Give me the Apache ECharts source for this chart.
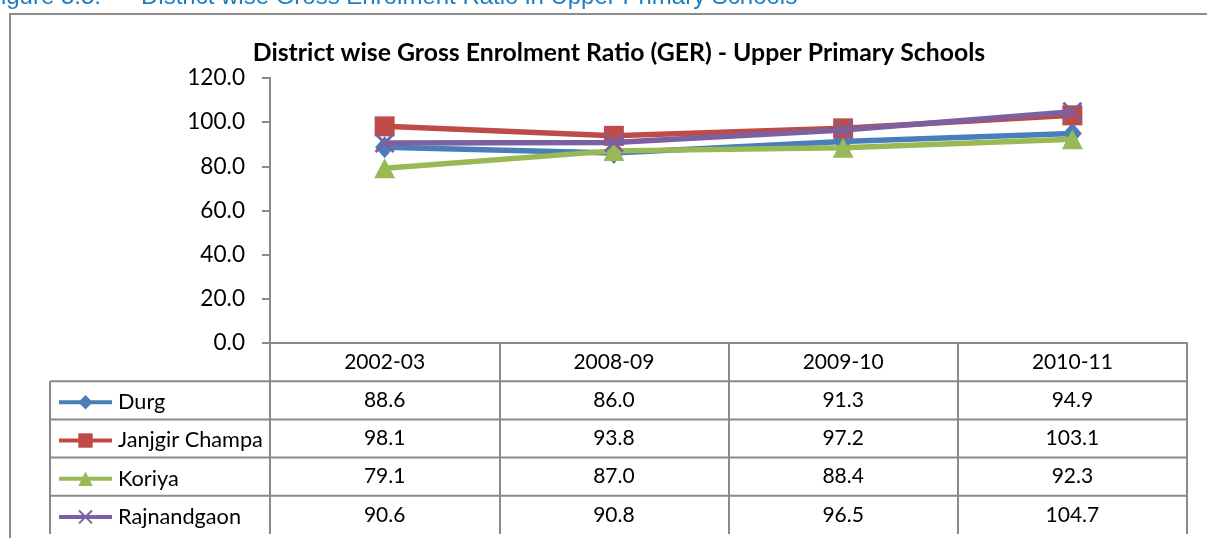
<!DOCTYPE html>
<html>
<head>
<meta charset="utf-8">
<script src="https://cdn.jsdelivr.net/npm/echarts@6/dist/echarts.min.js"></script>
<style>
  html, body { margin: 0; padding: 0; background: #fff; }
  #chart { width: 1207px; height: 538px; }
</style>
</head>
<body>
<div id="chart"></div>
<script>
// School years on the category axis
const years = ['2002-03', '2008-09', '2009-10', '2010-11'];

// Gross Enrolment Ratio, upper primary, by district
const durg        = [88.6, 86.0, 91.3, 94.9];
const janjgir     = [98.1, 93.8, 97.2, 103.1];
const koriya      = [79.1, 87.0, 88.4, 92.3];
const rajnandgaon = [90.6, 90.8, 96.5, 104.7];

const districtNames = ['Durg', 'Janjgir Champa', 'Koriya', 'Rajnandgaon'];
const districtValues = [durg, janjgir, koriya, rajnandgaon];

// Value axis ticks
const yTicks = { min: 0, max: 120, interval: 20 };

const FONT = 'Lato, "Open Sans", sans-serif';
const GRID_LINE = '#8a8a8a';
const colors = ['#4a7ebb', '#be4b48', '#98b954', '#7d60a0'];
const crossPath = 'path://M0,2 L2,0 L10,8 L18,0 L20,2 L12,10 L20,18 L18,20 L10,12 L2,20 L0,18 L8,10 Z';
const symbols = ['diamond', 'rect', 'triangle', crossPath];
const symbolSizes = [[19, 22], 20, [21, 20], 20];

const ROW_H = 38.2;
const GRID = { left: 270, right: 20, top: 78, bottom: 195 };

const chart = echarts.init(document.getElementById('chart'), null, { renderer: 'canvas' });

const series = districtNames.map((name, i) => ({
  name: name,
  type: 'line',
  data: districtValues[i],
  symbol: symbols[i],
  symbolSize: symbolSizes[i],
  showAllSymbol: true,
  z: 2 + i,
  lineStyle: { color: colors[i], width: 5.5 },
  itemStyle: { color: colors[i], borderWidth: 0 },
  emphasis: { disabled: true },
  animation: false
}));

const baseOption = {
  animation: false,
  color: colors,
  title: {
    text: 'District wise Gross Enrolment Ratio (GER) - Upper Primary Schools',
    left: 614, textAlign: 'center', top: 36,
    textStyle: { fontFamily: FONT, fontSize: 24.8, fontWeight: 'bold', color: '#000' }
  },
  grid: GRID,
  xAxis: {
    type: 'category',
    data: years,
    boundaryGap: true,
    axisLine: { show: true, lineStyle: { color: GRID_LINE, width: 2 } },
    axisTick: { show: true, length: ROW_H * 5, lineStyle: { color: GRID_LINE, width: 2 } },
    axisLabel: {
      margin: 19, verticalAlign: 'middle',
      fontFamily: FONT, fontSize: 21, color: '#000'
    },
    splitLine: { show: false }
  },
  yAxis: {
    type: 'value',
    min: yTicks.min, max: yTicks.max, interval: yTicks.interval,
    axisLine: { show: true, lineStyle: { color: GRID_LINE, width: 2 } },
    axisTick: { show: true, length: 8, lineStyle: { color: GRID_LINE, width: 2 } },
    axisLabel: {
      margin: 25, fontFamily: FONT, fontSize: 22.6, color: '#000',
      formatter: v => v.toFixed(1)
    },
    splitLine: { show: false }
  },
  series: series
};

chart.setOption(baseOption);

// Data table beneath the plot: rows, legend keys and values
const catX = years.map(y => chart.convertToPixel({ xAxisIndex: 0 }, y));
const axisY = chart.convertToPixel({ yAxisIndex: 0 }, 0);
const bandW = catX.length > 1 ? catX[1] - catX[0] : 200;
const tableRight = catX[catX.length - 1] + bandW / 2;
const tableLeft = 50;

const CAPTION_FONT = '24px "Liberation Sans", Arial, sans-serif';
const graphics = [];
// Outer chart frame
graphics.push({
  type: 'rect', silent: true, z: 0,
  shape: { x: 10, y: 14, width: 1240, height: 600 },
  style: { fill: 'none', stroke: '#8c8c8c', lineWidth: 2 }
});
// Figure caption above the frame
graphics.push({
  type: 'text', silent: true,
  x: 101, y: -3,
  style: { text: 'Figure 5.5:', fill: '#1b7dc3', font: CAPTION_FONT, textAlign: 'right', textVerticalAlign: 'middle' }
});
graphics.push({
  type: 'text', silent: true,
  x: 141, y: -3,
  style: { text: 'District wise Gross Enrolment Ratio in Upper Primary Schools', fill: '#1b7dc3', font: CAPTION_FONT, textAlign: 'left', textVerticalAlign: 'middle' }
});

// Horizontal row rules
for (let r = 1; r <= districtNames.length; r++) {
  const y = axisY + ROW_H * r;
  graphics.push({
    type: 'line', silent: true,
    shape: { x1: tableLeft, y1: y, x2: tableRight, y2: y },
    style: { stroke: GRID_LINE, lineWidth: 2 }
  });
}
// Left edge of the legend column
graphics.push({
  type: 'line', silent: true,
  shape: { x1: tableLeft, y1: axisY + ROW_H, x2: tableLeft, y2: axisY + ROW_H * 5 },
  style: { stroke: GRID_LINE, lineWidth: 2 }
});
// Cell values
districtNames.forEach((name, r) => {
  const cy = axisY + ROW_H * (r + 1.5);
  districtValues[r].forEach((v, c) => {
    graphics.push({
      type: 'text', silent: true,
      x: catX[c], y: cy,
      style: { text: v.toFixed(1), fill: '#000', font: '21px ' + FONT, textAlign: 'center', textVerticalAlign: 'middle' }
    });
  });
});

// One legend per table row
const legends = districtNames.map((name, r) => ({
  data: [name],
  left: 57,
  top: axisY + ROW_H * (r + 1.5) - 9,
  padding: 0,
  itemWidth: 53,
  itemHeight: 18,
  itemGap: 0,
  selectedMode: false,
  lineStyle: { width: 4 },
  textStyle: { fontFamily: FONT, fontSize: 21.7, color: '#000', lineHeight: 18, padding: [0, 0, 0, 1] }
}));

chart.setOption({ graphic: graphics, legend: legends });
</script>
</body>
</html>
